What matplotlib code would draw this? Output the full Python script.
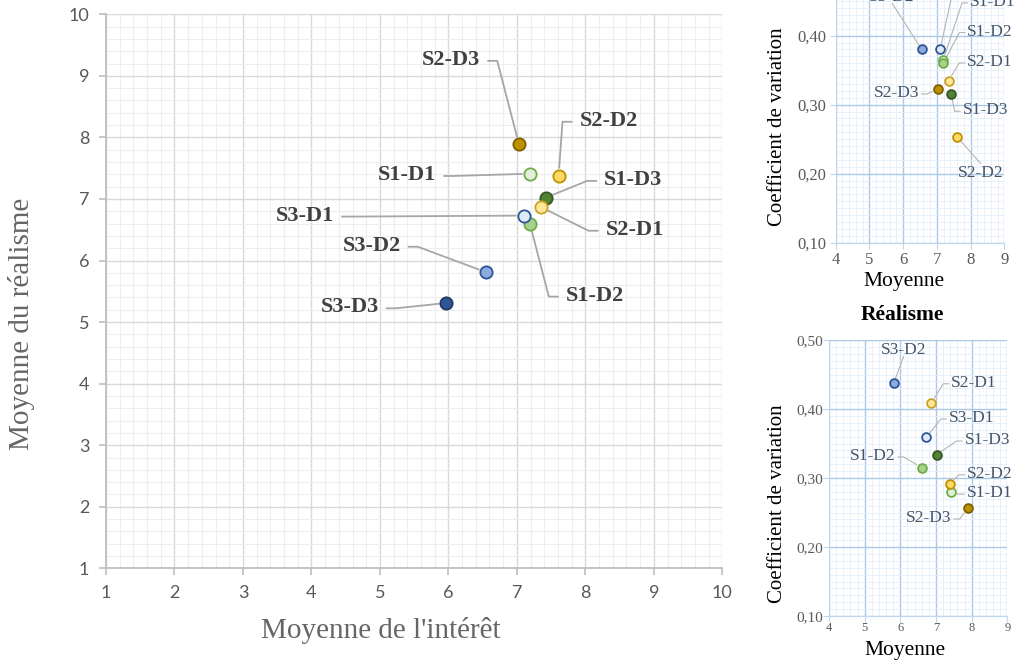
import numpy as np
import matplotlib
matplotlib.use("Agg")
import matplotlib.pyplot as plt
from matplotlib.ticker import MultipleLocator, FuncFormatter

# data
groups = ["S1-D1", "S1-D2", "S1-D3", "S2-D1", "S2-D2", "S2-D3", "S3-D1", "S3-D2", "S3-D3"]
interest_mean = [7.19, 7.19, 7.42, 7.35, 7.61, 7.03, 7.10, 6.55, 5.97]
realism_mean = [7.41, 6.60, 7.02, 6.87, 7.38, 7.89, 6.73, 5.81, 5.31]
interest_cv = [0.365, 0.360, 0.316, 0.335, 0.253, 0.323, 0.381, 0.380, np.nan]
realism_cv = [0.279, 0.315, 0.334, 0.409, 0.292, 0.256, 0.359, 0.437, np.nan]

face_colors = ["#e2f0d9", "#a9d18e", "#548235", "#ffe699", "#ffd966", "#bf9000",
               "#deebf7", "#8faadc", "#2f5597"]
edge_colors = ["#70ad47", "#70ad47", "#385723", "#c9a227", "#bf9000", "#7f6000",
               "#2f5597", "#2f5597", "#1f3864"]

# label layout: (x, y) of label centre in data units and side the leader attaches to
main_labels = {"S1-D1": (5.40, 7.39, "R"), "S1-D2": (8.14, 5.43, "L"), "S1-D3": (8.70, 7.31, "L"),
               "S2-D1": (8.72, 6.50, "L"), "S2-D2": (8.34, 8.27, "L"), "S2-D3": (6.04, 9.26, "R"),
               "S3-D1": (3.91, 6.73, "R"), "S3-D2": (4.88, 6.24, "R"), "S3-D3": (4.56, 5.24, "R")}
top_labels = {"S1-D1": (8.66, 0.449, "L"), "S1-D2": (8.58, 0.406, "L"), "S1-D3": (8.44, 0.292, "L"),
              "S2-D1": (8.58, 0.362, "L"), "S2-D2": (8.31, 0.201, "T"), "S2-D3": (5.80, 0.317, "R"),
              "S3-D1": (7.54, 0.488, "B"), "S3-D2": (5.67, 0.456, "B")}
bot_labels = {"S1-D1": (8.50, 0.278, "L"), "S1-D2": (5.23, 0.332, "R"), "S1-D3": (8.44, 0.355, "L"),
              "S2-D1": (8.07, 0.438, "L"), "S2-D2": (8.51, 0.306, "L"), "S2-D3": (6.80, 0.242, "R"),
              "S3-D1": (8.00, 0.387, "L"), "S3-D2": (6.10, 0.4855, "B")}

W, H = 1018, 671
fig = plt.figure(figsize=(W / 100, H / 100), dpi=100)


def px_axes(l, r, t, b):
    return fig.add_axes([l / W, 1 - b / H, (r - l) / W, (b - t) / H])


def comma(v, p):
    return f"{v:.2f}".replace(".", ",")


SERIF = "Liberation Serif"

# ---- main chart
ax = px_axes(106, 722.3, 14.3, 568.3)
ax.set_xlim(1, 10)
ax.set_ylim(1, 10)
ax.xaxis.set_major_locator(MultipleLocator(1))
ax.yaxis.set_major_locator(MultipleLocator(1))
ax.xaxis.set_minor_locator(MultipleLocator(0.2))
ax.yaxis.set_minor_locator(MultipleLocator(0.2))
ax.grid(which="major", color="#d9d9d9", lw=1.0)
ax.grid(which="minor", color="#eeeeee", lw=0.8)
ax.set_axisbelow(True)
for s in ["top", "right"]:
    ax.spines[s].set_visible(False)
for s in ["left", "bottom"]:
    ax.spines[s].set_color("#bfbfbf")
    ax.spines[s].set_linewidth(1.3)
ax.tick_params(which="major", length=5, width=1.2, color="#bfbfbf", labelcolor="#595959",
               labelsize=13, pad=7)
ax.tick_params(which="minor", length=0)
for t in ax.get_xticklabels() + ax.get_yticklabels():
    t.set_fontfamily("Lato")

fig.text(380.5 / W, 1 - 630 / H, "Moyenne de l'intérêt", family=SERIF, fontsize=21,
         color="#666666", ha="center", va="center")
fig.text(22 / W, 1 - 324 / H, "Moyenne du réalisme", family=SERIF, fontsize=21,
         color="#666666", ha="center", va="center", rotation=90)

# ---- top small chart (interest)
ax_top = px_axes(835.7, 1004.3, -33.3, 242.7)
# ---- bottom small chart (realism)
ax_bot = px_axes(829, 1007.3, 340, 616)

for a, ysz, xsz, pad in [(ax_top, 12, 12, 3), (ax_bot, 11, 9, 0.5)]:
    a.set_xlim(4, 9)
    a.set_ylim(0.10, 0.50)
    a.xaxis.set_major_locator(MultipleLocator(1))
    a.yaxis.set_major_locator(MultipleLocator(0.1))
    a.xaxis.set_minor_locator(MultipleLocator(0.2))
    a.yaxis.set_minor_locator(MultipleLocator(0.01))
    a.yaxis.set_major_formatter(FuncFormatter(comma))
    a.grid(which="major", color="#a9c9ea", lw=1.0)
    a.grid(which="minor", color="#e4eef8", lw=0.6)
    a.set_axisbelow(True)
    for s in ["top", "right"]:
        a.spines[s].set_visible(False)
    for s in ["left", "bottom"]:
        a.spines[s].set_color("#bdd7ee")
    a.tick_params(which="major", length=4, color="#bdd7ee", labelcolor="#595959", pad=pad)
    a.tick_params(axis="y", labelsize=ysz)
    a.tick_params(axis="x", labelsize=xsz)
    a.tick_params(which="minor", length=0)
    for t in a.get_xticklabels() + a.get_yticklabels():
        t.set_fontfamily(SERIF)

fig.text(904 / W, 1 - 281.7 / H, "Moyenne", family=SERIF, fontsize=15.5, ha="center", va="center")
fig.text(777 / W, 1 - 126.7 / H, "Coefficient de variation", family=SERIF, fontsize=15,
         ha="center", va="center", rotation=90)
fig.text(905 / W, 1 - 650 / H, "Moyenne", family=SERIF, fontsize=15.5, ha="center", va="center")
fig.text(777.5 / W, 1 - 504 / H, "Coefficient de variation", family=SERIF, fontsize=15,
         ha="center", va="center", rotation=90)
fig.text(902 / W, 1 - 315 / H, "Réalisme", family=SERIF, fontsize=15.5, fontweight="bold",
         ha="center", va="center")


def scatter_with_labels(a, xs, ys, layout, msize, fsize, weight, tcolor, lcolor, lw, gap, elbow):
    placed = []
    for i, g in enumerate(groups):
        if np.isnan(ys[i]) or g not in layout:
            continue
        a.scatter([xs[i]], [ys[i]], s=msize, facecolor=face_colors[i], edgecolor=edge_colors[i],
                  linewidth=1.3, zorder=4, clip_on=False)
        lx, ly, side = layout[g]
        t = a.text(lx, ly, g, family=SERIF, fontsize=fsize, fontweight=weight, color=tcolor,
                   ha="center", va="center", zorder=5)
        placed.append((xs[i], ys[i], t, side))
    return (a, placed, np.sqrt(msize) / 2 * 100 / 72 + 1, lcolor, lw, gap, elbow)


def draw_leaders(a, placed, radius, color, lw, gap, elbow):
    renderer = fig.canvas.get_renderer()
    inv = a.transData.inverted()
    for x, y, t, side in placed:
        bb = t.get_window_extent(renderer)
        mx, my = a.transData.transform((x, y))
        cy = (bb.y0 + bb.y1) / 2 - 1
        cx = (bb.x0 + bb.x1) / 2
        if side == "L":
            p0 = (bb.x0 - gap, cy)
            pts = [p0, (p0[0] - elbow, cy)]
        elif side == "R":
            p0 = (bb.x1 + gap, cy)
            pts = [p0, (p0[0] + elbow, cy)]
        elif side == "B":
            pts = [(cx, bb.y0 + 2)]
        else:
            pts = [(cx, bb.y1 + 1)]
        ex, ey = pts[-1]
        d = np.hypot(mx - ex, my - ey)
        pts.append((mx - (mx - ex) / d * radius, my - (my - ey) / d * radius))
        dp = inv.transform(np.array(pts))
        a.plot(dp[:, 0], dp[:, 1], color=color, lw=lw, zorder=3, clip_on=False,
               solid_capstyle="butt")


jobs = [
    scatter_with_labels(ax, interest_mean, realism_mean, main_labels, 78, 16, "bold", "#404040",
                        "#a6a6a6", 1.3, 7, 10),
    scatter_with_labels(ax_top, interest_mean, interest_cv, top_labels, 40, 12.5, "normal",
                        "#44546a", "#b4b4b4", 0.8, 2, 6),
    scatter_with_labels(ax_bot, realism_mean, realism_cv, bot_labels, 40, 12.5, "normal",
                        "#44546a", "#b4b4b4", 0.8, 2, 6),
]
fig.canvas.draw()
for job in jobs:
    draw_leaders(*job)

fig.savefig("out.png", dpi=100)
